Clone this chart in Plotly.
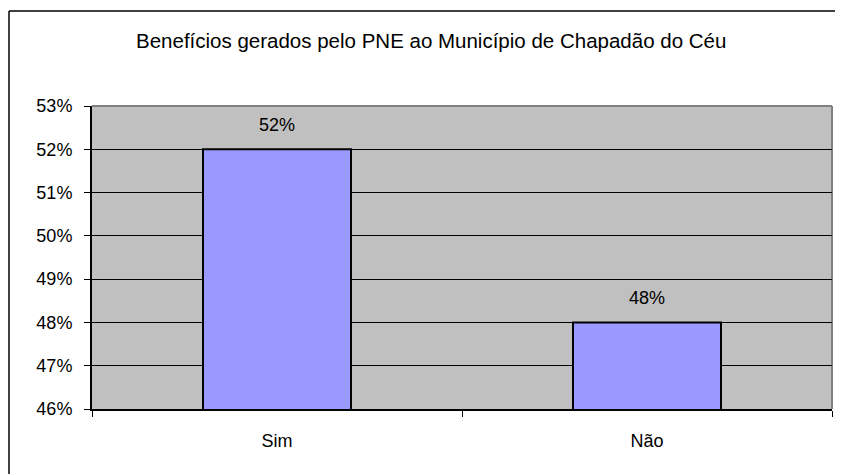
import plotly.graph_objects as go

categories = ["Sim", "Não"]
values = [0.52, 0.48]
labels = ["52%", "48%"]
y_ticks = [0.46, 0.47, 0.48, 0.49, 0.50, 0.51, 0.52, 0.53]
y_ticktext = ["46%", "47%", "48%", "49%", "50%", "51%", "52%", "53%"]
title_text = "Benefícios gerados pelo PNE ao Município de Chapadão do Céu"

FONT = "Liberation Sans, Arial, sans-serif"
OFF = 8  # page body margin
W, H = 843 - OFF, 474 - OFF
L, R, T, B = 92 - OFF, 11, 106 - OFF, 65
pw, ph = W - L - R, H - T - B

def px(x):
    return (x - OFF - L) / pw

def py(y):
    return (H - B - (y - OFF)) / ph

fig = go.Figure()
fig.add_trace(go.Bar(
    x=categories, y=values,
    marker=dict(color="#9999FF", line=dict(color="black", width=2)),
    width=0.4, hoverinfo="skip",
))

for c, v, t in zip(categories, values, labels):
    fig.add_annotation(x=c, y=v, text=t, showarrow=False, yanchor="bottom",
                       yshift=12, font=dict(family=FONT, size=18, color="black"))

fig.add_annotation(xref="paper", yref="paper", x=px(431), y=py(40), text=title_text,
                   showarrow=False, xanchor="center", yanchor="middle",
                   font=dict(family=FONT, size=20.5, color="black"))

# outer frame (top and left edges visible)
fig.add_shape(type="line", xref="paper", yref="paper", x0=px(9), x1=px(843), y0=py(11), y1=py(11),
              line=dict(color="black", width=1.5), layer="above")
fig.add_shape(type="line", xref="paper", yref="paper", x0=px(9), x1=px(9), y0=py(11), y1=py(474),
              line=dict(color="black", width=1.5), layer="above")

# plot area frame: gray top & right
fig.add_shape(type="line", xref="paper", yref="paper", x0=0, x1=1, y0=1, y1=1,
              line=dict(color="#808080", width=2), layer="below")
fig.add_shape(type="line", xref="paper", yref="paper", x0=1, x1=1, y0=0, y1=1,
              line=dict(color="#808080", width=2), layer="below")

fig.update_layout(
    width=W, height=H,
    margin=dict(l=L, r=R, t=T, b=B),
    paper_bgcolor="white", plot_bgcolor="#C0C0C0",
    showlegend=False,
    font=dict(family=FONT, size=18, color="black"),
    bargap=0.6,
)
fig.update_xaxes(
    type="category", showgrid=False, showline=True, linecolor="black", linewidth=2,
    ticks="outside", tickson="boundaries", ticklen=6, tickcolor="black", tickwidth=1,
    tickfont=dict(family=FONT, size=18), ticklabelstandoff=14,
)
fig.update_yaxes(
    range=[0.46, 0.53], tickvals=y_ticks, ticktext=y_ticktext,
    showgrid=True, gridcolor="black", gridwidth=1,
    showline=True, linecolor="black", linewidth=2,
    ticks="outside", ticklen=6, tickcolor="black", tickwidth=1,
    tickfont=dict(family=FONT, size=18), ticklabelstandoff=8, zeroline=False,
)

fig.write_html("out.html", config={"displayModeBar": False})
